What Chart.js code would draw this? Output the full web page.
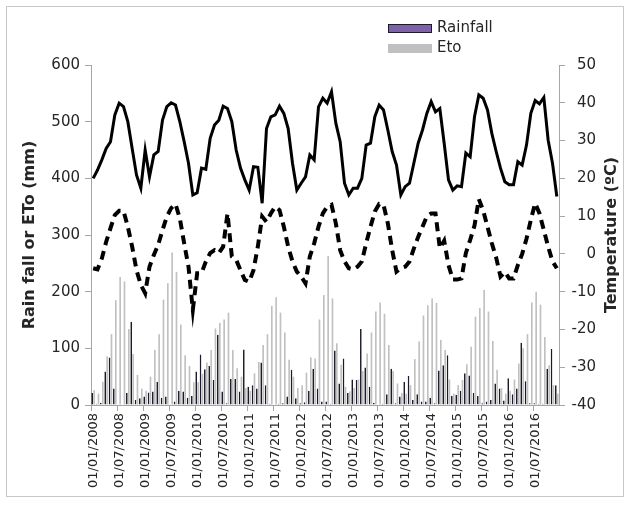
<!DOCTYPE html>
<html>
<head>
<meta charset="utf-8">
<script src="https://cdn.jsdelivr.net/npm/chart.js@4.4.1/dist/chart.umd.min.js"></script>
<style>
  html, body { margin: 0; padding: 0; background: #fff; }
  canvas { display: block; }
</style>
</head>
<body>
<canvas id="chart" width="630" height="511"></canvas>
<script>
// monthly series, Jan 2008 .. Dec 2016
const years = [2008, 2009, 2010, 2011, 2012, 2013, 2014, 2015, 2016];
const months = ['01', '02', '03', '04', '05', '06', '07', '08', '09', '10', '11', '12'];
const categories = [];
years.forEach(y => months.forEach(m => categories.push('01/' + m + '/' + y)));

const rainfall = [
  21, 2, 4, 59, 84, 29, 1, 1, 21, 147, 9, 12,
  15, 22, 24, 41, 13, 15, 1, 6, 25, 24, 13, 16,
  59, 89, 63, 69, 44, 124, 24, 3, 46, 46, 24, 98,
  32, 35, 29, 75, 35, 2, 1, 2, 3, 15, 62, 12,
  3, 5, 25, 64, 29, 6, 6, 2, 96, 38, 82, 21,
  45, 44, 134, 66, 32, 4, 1, 2, 19, 64, 3, 15,
  41, 51, 9, 19, 6, 6, 13, 3, 61, 70, 88, 16,
  18, 25, 56, 52, 21, 16, 3, 6, 9, 38, 29, 8,
  47, 19, 29, 110, 42, 3, 3, 2, 2, 64, 99, 35
];
const eto = [
  26, 20, 41, 86, 125, 185, 226, 218, 134, 90, 53, 29,
  25, 50, 97, 125, 186, 215, 269, 235, 142, 88, 69, 40,
  40, 55, 75, 97, 135, 145, 151, 163, 97, 65, 50, 30,
  25, 56, 76, 106, 125, 175, 190, 163, 128, 80, 50, 30,
  35, 57, 84, 82, 151, 194, 263, 188, 109, 71, 32, 24,
  30, 45, 60, 91, 128, 165, 181, 161, 106, 60, 38, 21,
  20, 35, 81, 112, 158, 176, 188, 180, 115, 97, 45, 20,
  35, 44, 72, 103, 156, 171, 203, 165, 113, 62, 30, 20,
  25, 45, 73, 100, 125, 181, 200, 177, 120, 70, 35, 20
];
const tempMax = [
  20.0, 22.2, 24.9, 27.9, 29.7, 36.8, 39.9, 39.0, 35.0, 27.9, 20.9, 17.4,
  27.5, 20.4, 26.2, 27.1, 35.4, 39.0, 40.0, 39.4, 35.0, 29.7, 24.0, 15.6,
  16.2, 22.7, 22.4, 30.6, 34.1, 35.4, 39.1, 38.5, 35.0, 27.5, 22.7, 19.6,
  16.9, 23.1, 22.9, 13.4, 33.2, 36.3, 36.8, 39.1, 37.2, 33.2, 24.0, 16.9,
  18.7, 20.4, 26.2, 24.9, 38.9, 41.2, 39.9, 42.9, 34.6, 29.7, 18.7, 15.6,
  17.4, 17.4, 20.0, 28.8, 29.3, 36.3, 39.4, 38.1, 32.8, 27.1, 23.5, 15.6,
  17.8, 18.7, 24.0, 29.3, 32.8, 37.2, 40.3, 37.6, 38.5, 29.3, 19.6, 16.9,
  18.0, 17.8, 26.7, 25.7, 36.3, 42.1, 41.2, 38.1, 31.9, 27.1, 22.7, 19.1,
  18.3, 18.3, 24.4, 23.5, 28.8, 37.2, 40.6, 39.7, 41.4, 30.1, 24.0, 15.2
];
const tempMin = [
  -3.8, -4.1, -1.2, 3.2, 6.8, 10.3, 11.4, 11.4, 7.2, 1.9, -4.3, -8.2,
  -10.4, -3.4, -0.3, 2.4, 6.3, 9.9, 12.1, 13.2, 9.4, 2.8, -3.4, -14.8,
  -5.1, -5.1, -2.0, 0.2, 1.0, 0.2, 1.9, 10.7, -0.7, -1.6, -4.3, -6.9,
  -7.4, -4.3, 1.9, 9.9, 8.5, 10.7, 12.5, 11.6, 7.2, 1.9, -2.0, -4.7,
  -6.0, -7.8, -0.7, 2.8, 7.2, 10.7, 12.5, 13.0, 8.1, 1.0, -2.0, -3.8,
  -4.1, -3.4, -2.0, 2.8, 7.2, 11.2, 13.2, 13.0, 8.1, 1.0, -4.7, -3.8,
  -3.4, -2.0, 1.4, 4.5, 7.2, 9.9, 10.7, 10.7, 1.5, 3.5, -3.0, -6.8,
  -6.8, -6.5, 0.2, 3.7, 7.5, 14.5, 11.5, 7.2, 2.8, -1.0, -6.0, -4.8,
  -6.5, -6.5, -3.0, 0.0, 4.0, 9.0, 13.4, 10.7, 6.3, 1.9, -2.0, -3.8
];

const leftTitle = 'Rain fall or ETo (mm)';
const rightTitle = 'Temperature (ºC)';

const axisGray = '#a6a6a6';
const textColor = '#262626';

// frame, stacked legend and the upward-reading right title
const extras = {
  id: 'extras',
  beforeDraw(chart) {
    const ctx = chart.ctx;
    ctx.save();
    ctx.strokeStyle = '#c8c8c8';
    ctx.lineWidth = 1;
    ctx.strokeRect(6.5, 6.5, 617, 490);
    ctx.restore();
  },
  afterDraw(chart) {
    const ctx = chart.ctx;
    ctx.save();
    const bars = chart.data.datasets.filter(d => d.type === 'bar');
    bars.forEach((ds, k) => {
      const y = 24 + k * 20;
      ctx.fillStyle = ds.legendColor;
      ctx.fillRect(388, y, 44, 9);
      if (ds.borderWidth) {
        ctx.strokeStyle = ds.borderColor;
        ctx.lineWidth = 1;
        ctx.strokeRect(388.5, y + 0.5, 43, 8);
      }
      ctx.fillStyle = textColor;
      ctx.font = '15px "DejaVu Sans"';
      ctx.textBaseline = 'middle';
      ctx.textAlign = 'left';
      ctx.fillText(ds.label, 437, y + 4.5);
    });
    ctx.translate(612, (chart.chartArea.top + chart.chartArea.bottom) / 2);
    ctx.rotate(-Math.PI / 2);
    ctx.font = 'bold 16px "DejaVu Sans"';
    ctx.textAlign = 'center';
    ctx.textBaseline = 'middle';
    ctx.fillStyle = textColor;
    ctx.fillText(rightTitle, 0, 0);
    ctx.restore();
  }
};

new Chart(document.getElementById('chart'), {
  data: {
    labels: categories,
    datasets: [
      {
        type: 'line',
        label: 'Tmax',
        data: tempMax,
        yAxisID: 'y1',
        borderColor: '#000',
        borderWidth: 3,
        pointRadius: 0,
        tension: 0,
        order: 0
      },
      {
        type: 'line',
        label: 'Tmin',
        data: tempMin,
        yAxisID: 'y1',
        borderColor: '#000',
        borderWidth: 4,
        borderDash: [9, 6],
        pointRadius: 0,
        tension: 0,
        order: 0
      },
      {
        type: 'bar',
        label: 'Rainfall',
        data: rainfall,
        yAxisID: 'y',
        backgroundColor: '#2a2238',
        legendColor: '#7e62a8',
        borderColor: '#1f1a2a',
        borderWidth: 1,
        categoryPercentage: 0.9,
        barPercentage: 0.85,
        order: 1
      },
      {
        type: 'bar',
        label: 'Eto',
        data: eto,
        yAxisID: 'y',
        backgroundColor: '#c0c0c0',
        legendColor: '#c0c0c0',
        borderWidth: 0,
        categoryPercentage: 0.9,
        barPercentage: 0.85,
        order: 1
      }
    ]
  },
  options: {
    responsive: false,
    animation: false,
    devicePixelRatio: 1,
    layout: { padding: { left: 6, right: 34, top: 65, bottom: 6 } },
    plugins: {
      legend: { display: false },
      tooltip: { enabled: false }
    },
    scales: {
      x: {
        offset: true,
        grid: {
          offset: true,
          drawOnChartArea: false,
          tickLength: 6,
          color: ctx => (ctx.index % 6 === 0 ? axisGray : 'rgba(0,0,0,0)')
        },
        border: { color: axisGray },
        ticks: {
          autoSkip: false,
          minRotation: 90,
          maxRotation: 90,
          padding: 2,
          color: textColor,
          font: { family: 'DejaVu Sans', size: 13 },
          callback: (v, i) => (i % 6 === 0 ? categories[i] : '')
        },
        afterFit: s => { s.height = 100; }
      },
      y: {
        position: 'left',
        min: 0,
        max: 600,
        ticks: {
          stepSize: 100,
          padding: 5,
          color: textColor,
          font: { family: 'DejaVu Sans', size: 15 }
        },
        grid: { drawOnChartArea: false, tickLength: 6, color: axisGray },
        border: { color: axisGray },
        title: {
          display: true,
          text: leftTitle,
          color: textColor,
          font: { family: 'DejaVu Sans', size: 16, weight: 'bold' },
          padding: { top: 14, bottom: 0 }
        },
        afterFit: s => { s.width = 85; }
      },
      y1: {
        position: 'right',
        min: -40,
        max: 50,
        ticks: {
          stepSize: 10,
          padding: 9,
          crossAlign: 'far',
          color: textColor,
          font: { family: 'DejaVu Sans', size: 15 }
        },
        grid: { drawOnChartArea: false, tickLength: 6, color: axisGray },
        border: { color: axisGray },
        afterFit: s => { s.width = 37; }
      }
    }
  },
  plugins: [extras]
});
</script>
</body>
</html>
